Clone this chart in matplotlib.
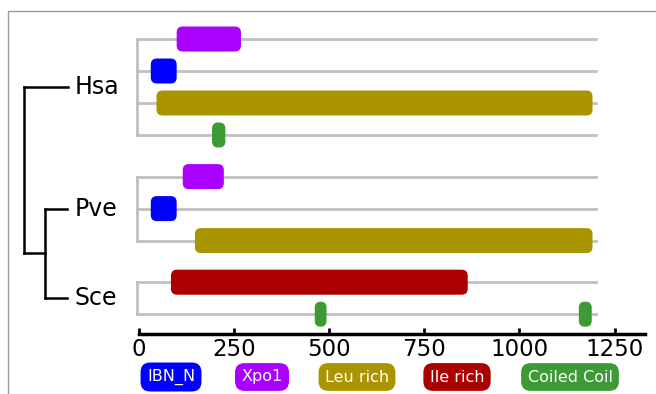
import matplotlib
matplotlib.use("Agg")
import matplotlib.pyplot as plt
from matplotlib.patches import FancyBboxPatch, Rectangle

# species and their protein lengths
species = ["Hsa", "Pve", "Sce"]
lengths = [1200, 1200, 1200]

# domain tracks per species: each track is a list of (domain, start, end)
hsa_tracks = [
    [("Xpo1", 99, 268)],
    [("IBN_N", 31, 99)],
    [("Leu rich", 46, 1192)],
    [("Coiled Coil", 192, 227)],
]
pve_tracks = [
    [("Xpo1", 115, 223)],
    [("IBN_N", 31, 99)],
    [("Leu rich", 147, 1192)],
]
sce_tracks = [
    [("Ile rich", 84, 864)],
    [("Coiled Coil", 462, 493), ("Coiled Coil", 1156, 1190)],
]
all_tracks = [hsa_tracks, pve_tracks, sce_tracks]

legend_names = ["IBN_N", "Xpo1", "Leu rich", "Ile rich", "Coiled Coil"]
colors = {
    "IBN_N": "#0000ff",
    "Xpo1": "#aa00ff",
    "Leu rich": "#aa9400",
    "Ile rich": "#aa0000",
    "Coiled Coil": "#3d9a35",
}
xticks = [0, 250, 500, 750, 1000, 1250]

W, H = 656, 394
fig = plt.figure(figsize=(W / 100, H / 100), dpi=100)

# main axes, placed in pixels
left, right, top, bottom = 139, 645, 11, 334
ax = fig.add_axes([left / W, 1 - bottom / H, (right - left) / W, (bottom - top) / H])
ax.set_xlim(0, 1330)
row_px = 32.0
first_px = 39
ax.set_ylim((bottom - first_px) / row_px, (top - first_px) / row_px)

sx = ax.bbox.width / 1330
sy = ax.bbox.height / abs(ax.get_ylim()[0] - ax.get_ylim()[1])
bar_h = 25 / row_px
radius_px = 6

# row positions
group_gap = 1.3
row = 0.0
group_rows = []
for tracks in all_tracks:
    rows = []
    for _ in tracks:
        rows.append(row)
        row += 1
    row += group_gap - 1
    group_rows.append(rows)

for g, tracks in enumerate(all_tracks):
    rows = group_rows[g]
    ax.plot([-5, -5], [rows[0], rows[-1]], color="#c0c0c0", lw=2, zorder=1,
            solid_capstyle="projecting", clip_on=False)
    for r, track in zip(rows, tracks):
        ax.plot([-5, lengths[g]], [r, r], color="#c0c0c0", lw=2, zorder=1,
                clip_on=False)
        for name, s, e in track:
            w_px = (e - s) * sx
            rad = min(radius_px, w_px / 2, 25 / 2) / sx
            p = FancyBboxPatch((s, r - bar_h / 2), e - s, bar_h,
                               boxstyle=f"round,pad=0,rounding_size={rad}",
                               mutation_aspect=sx / sy,
                               fc=colors[name], ec="none", zorder=2)
            ax.add_patch(p)

for side in ["top", "left", "right"]:
    ax.spines[side].set_visible(False)
ax.spines["bottom"].set_linewidth(2.5)
ax.spines["bottom"].set_color("black")
ax.set_yticks([])
ax.set_xticks(xticks)
ax.tick_params(axis="x", direction="in", length=4, width=2, pad=3, labelsize=16.5)

# tree overlay: x in pixels, y shares the main axes rows
tree = fig.add_axes([0, 1 - bottom / H, 1, (bottom - top) / H])
tree.set_xlim(0, W)
tree.set_ylim(ax.get_ylim())
tree.axis("off")
tree.patch.set_alpha(0)
mids = [(rows[0] + rows[-1]) / 2 for rows in group_rows]
node = (mids[1] + mids[2]) / 2
k = dict(color="black", lw=1.8, solid_capstyle="projecting")
tree.plot([24, 68], [mids[0], mids[0]], **k)
tree.plot([24, 24], [mids[0], node], **k)
tree.plot([24, 45], [node, node], **k)
tree.plot([45, 45], [mids[1], mids[2]], **k)
tree.plot([45, 67], [mids[1], mids[1]], **k)
tree.plot([45, 67], [mids[2], mids[2]], **k)
for name, m in zip(species, mids):
    tree.text(75, m, name, fontsize=17, ha="left", va="center")

# legend chips
chip_x = [171, 262, 357, 457, 570]
for name, cx in zip(legend_names, chip_x):
    fig.text(cx / W, 1 - 377 / H, name, color="white", fontsize=11.5,
             ha="center", va="center",
             bbox=dict(boxstyle="round,pad=0.4,rounding_size=0.6",
                       fc=colors[name], ec="none"))

# outer frame
fig.add_artist(Rectangle((8 / W, -0.1), 1.2, 1 - 11 / H + 0.1,
                         transform=fig.transFigure, fill=False,
                         ec="#9a9a9a", lw=1))

fig.savefig("out.png", dpi=100)
